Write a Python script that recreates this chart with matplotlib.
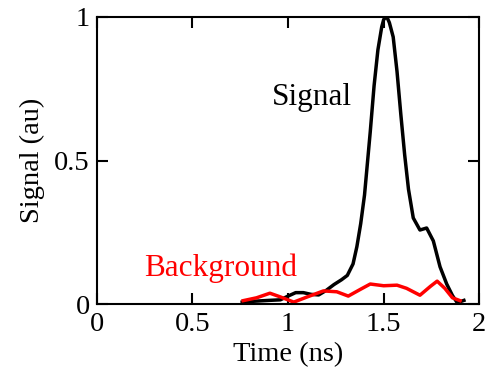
import numpy as np
import matplotlib.pyplot as plt
from matplotlib.ticker import FuncFormatter

plt.rcParams['font.family'] = ['Liberation Serif', 'DejaVu Serif']

# signal trace (time in ns, signal in au)
sig_t = [0.76, 0.82, 0.90, 0.96, 1.00, 1.04, 1.08, 1.12, 1.16, 1.20, 1.24,
         1.28, 1.31, 1.34, 1.36, 1.38, 1.40, 1.43, 1.45, 1.47, 1.49, 1.50, 1.51,
         1.52, 1.53, 1.55, 1.57, 1.59, 1.61, 1.63, 1.655, 1.69, 1.725, 1.76,
         1.795, 1.83, 1.86, 1.885, 1.92]
sig_v = [0.007, 0.010, 0.013, 0.015, 0.028, 0.040, 0.040, 0.034, 0.032, 0.048, 0.068,
         0.085, 0.100, 0.140, 0.200, 0.280, 0.380, 0.600, 0.760, 0.885, 0.965, 0.990, 1.000,
         0.995, 0.980, 0.930, 0.810, 0.660, 0.520, 0.400, 0.300, 0.258, 0.265, 0.220,
         0.130, 0.070, 0.030, 0.005, 0.013]

# background trace
bg_t = [0.765, 0.835, 0.905, 0.96, 1.03, 1.10, 1.185, 1.255, 1.315, 1.38,
        1.43, 1.50, 1.57, 1.62, 1.69, 1.745, 1.78, 1.82, 1.86, 1.90]
bg_v = [0.012, 0.022, 0.038, 0.025, 0.007, 0.025, 0.046, 0.043, 0.028, 0.052,
        0.070, 0.064, 0.066, 0.055, 0.031, 0.062, 0.080, 0.055, 0.022, 0.012]

fig = plt.figure(figsize=(4.87, 3.75), dpi=100)
ax = fig.add_axes([0.199, 0.189, 0.785, 0.766])

ax.plot(sig_t, sig_v, color="black", lw=2.5, solid_joinstyle="round")
ax.plot(bg_t, bg_v, color="red", lw=2.5, solid_joinstyle="round")

ax.text(1.125, 0.72, "Signal", fontsize=22.5, ha="center", va="center", color="black")
ax.text(0.645, 0.125, "Background", fontsize=22.5, ha="center", va="center", color="red")

ax.set_xlim(0, 2)
ax.set_ylim(0, 1)
ax.set_xticks([0, 0.5, 1, 1.5, 2])
ax.set_yticks([0, 0.5, 1])
fmt = FuncFormatter(lambda v, p: "%g" % v)
ax.xaxis.set_major_formatter(fmt)
ax.yaxis.set_major_formatter(fmt)
ax.tick_params(direction="in", length=8, width=1.5, top=True, right=True,
               labelsize=20.5)
ax.tick_params(axis="x", pad=6)
ax.tick_params(axis="y", pad=5)
for s in ax.spines.values():
    s.set_linewidth(1.5)

ax.set_xlabel("Time (ns)", fontsize=20.5, labelpad=3)
ax.set_ylabel("Signal (au)", fontsize=20.5, labelpad=7)

fig.savefig("out.png")
